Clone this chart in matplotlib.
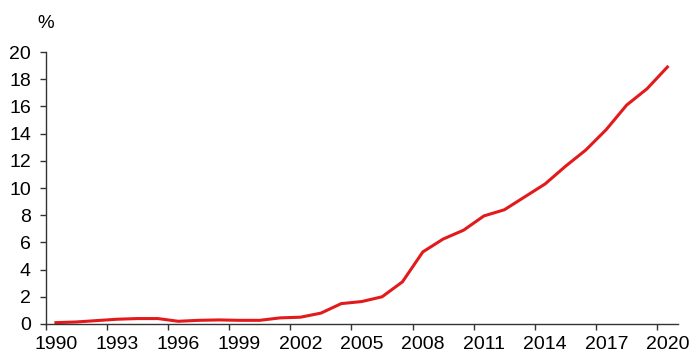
import matplotlib
matplotlib.use("Agg")
import matplotlib.pyplot as plt
import numpy as np

plt.rcParams['font.family'] = ['Liberation Sans', 'DejaVu Sans']

years = list(range(1990, 2021))
values = [0.1, 0.15, 0.25, 0.35, 0.4, 0.4, 0.2, 0.27, 0.3, 0.27, 0.27, 0.45, 0.5, 0.8,
          1.5, 1.65, 2.0, 3.1, 5.3, 6.25, 6.9, 7.95, 8.4, 9.35, 10.3, 11.6, 12.8, 14.3,
          16.1, 17.3, 18.9]
xtick_years = list(range(1990, 2021, 3))
yticks = list(range(0, 21, 2))

fig = plt.figure(figsize=(7.0, 3.59), dpi=100)
ax = fig.add_axes([0.0653, 0.0975, 0.9027, 0.7575])

x = np.array(years) + 0.5
ax.plot(x, values, color='#e31a1c', lw=2.2, solid_joinstyle='round')

ax.set_xlim(1990, 2021)
ax.set_ylim(0, 20)
# tick marks at category boundaries, labels at category centres
ax.set_xticks(xtick_years)
ax.set_xticklabels([])
ax.set_xticks(np.array(xtick_years) + 0.5, minor=True)
ax.set_xticklabels([str(y) for y in xtick_years], minor=True)
ax.set_yticks(yticks)
ax.set_yticklabels([str(v) for v in yticks])

for s in ['top', 'right']:
    ax.spines[s].set_visible(False)
for s in ['left', 'bottom']:
    ax.spines[s].set_color('#333333')
    ax.spines[s].set_linewidth(1.0)
ax.tick_params(axis='both', which='major', direction='out', length=4.6, width=1.0,
               color='#333333', labelsize=14, labelcolor='black')
ax.tick_params(axis='y', pad=6)
ax.tick_params(axis='x', which='minor', length=0, labelsize=14, pad=8.5)

fig.text(0.053, 0.935, '%', fontsize=13.5, ha='left', va='center')

fig.savefig('out.png', dpi=100)
